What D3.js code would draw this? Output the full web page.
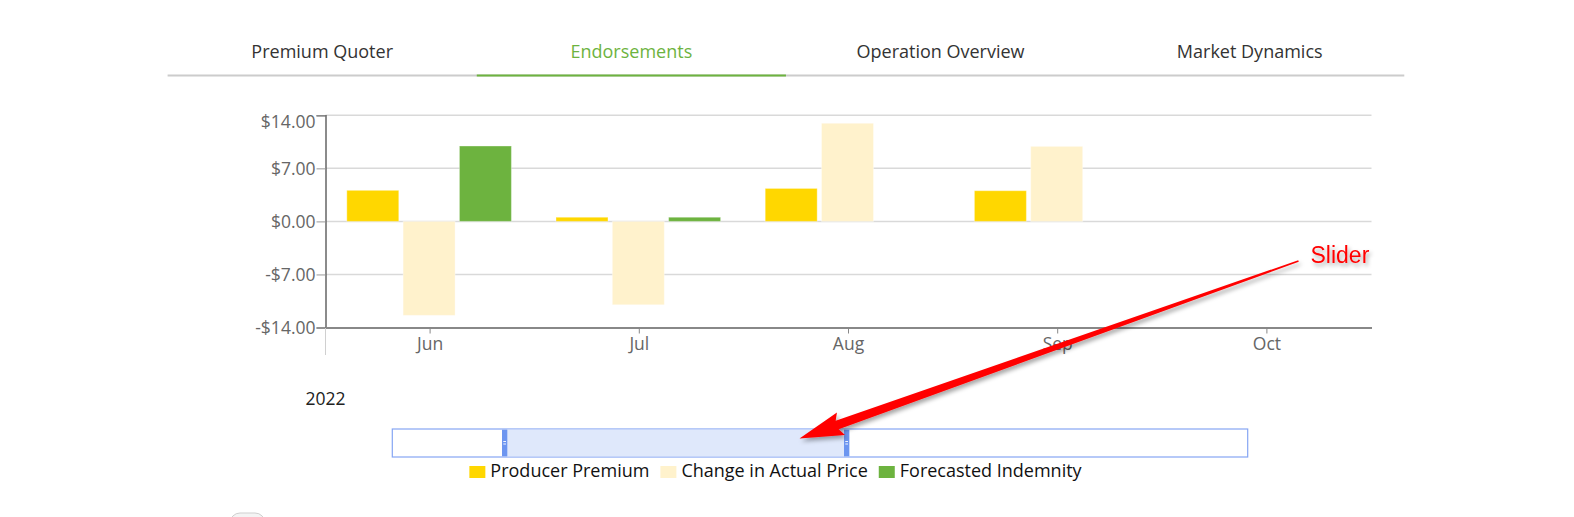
<!DOCTYPE html>
<html>
<head>
<meta charset="utf-8">
<script src="https://cdn.jsdelivr.net/npm/d3@7"></script>
<style>
  html, body { margin: 0; padding: 0; background: #fff; }
  svg { display: block; font-family: "Open Sans", sans-serif; }
</style>
</head>
<body>
<svg id="chart" width="1574" height="517"></svg>
<script>
// ---- data ----
const tabs = ["Premium Quoter", "Endorsements", "Operation Overview", "Market Dynamics"];
const activeTab = "Endorsements";
const months = ["Jun", "Jul", "Aug", "Sep", "Oct"];
const seriesNames = ["Producer Premium", "Change in Actual Price", "Forecasted Indemnity"];
const producerPremium = [4.1, 0.55, 4.35, 4.05, null];
const changeInActualPrice = [-12.4, -11.0, 12.95, 9.9, null];
const forecastedIndemnity = [9.95, 0.55, null, null, null];
const yTicks = [-14, -7, 0, 7, 14];
const yearLabel = "2022";
const annotationText = "Slider";
const seriesColors = ["#FFD700", "#FFF2CC", "#6DB33F"];

const seriesValues = [producerPremium, changeInActualPrice, forecastedIndemnity];

const svg = d3.select("#chart");

// ---- defs ----
const defs = svg.append("defs");
const sh = defs.append("filter").attr("id", "shadow").attr("x", "-20%").attr("y", "-20%").attr("width", "140%").attr("height", "160%");
sh.append("feDropShadow").attr("dx", 2).attr("dy", 3).attr("stdDeviation", 2).attr("flood-color", "#000").attr("flood-opacity", 0.35);

// ---- tabs ----
const tabScale = d3.scaleBand().domain(tabs).range([167.6, 1404.3]);
const tabG = svg.append("g");
tabG.append("line").attr("x1", 167.6).attr("x2", 1404.3).attr("y1", 75.5).attr("y2", 75.5)
  .attr("stroke", "#cccccc").attr("stroke-width", 2);
tabG.append("line").attr("x1", tabScale(activeTab)).attr("x2", tabScale(activeTab) + tabScale.bandwidth())
  .attr("y1", 75.5).attr("y2", 75.5).attr("stroke", "#6DB33F").attr("stroke-width", 2);
tabG.selectAll("text.tab").data(tabs).join("text").attr("class", "tab")
  .attr("x", d => tabScale(d) + tabScale.bandwidth() / 2)
  .attr("y", 57.5)
  .attr("text-anchor", "middle")
  .attr("font-size", "18px")
  .attr("fill", d => d === activeTab ? "#6DB33F" : "#333333")
  .text(d => d);

// ---- chart scales ----
const x = d3.scaleBand().domain(months).range([325.5, 1371.5]).padding(0);
const y = d3.scaleLinear().domain([-14, 14]).range([327.5, 115.3]);
const xs = d3.scaleBand().domain(seriesNames).range([-82.3, 82.3]).paddingInner(0.077).paddingOuter(0);

// gridlines
svg.append("g").selectAll("line").data(yTicks.filter(t => t !== -14)).join("line")
  .attr("x1", 325.5).attr("x2", 1371.5)
  .attr("y1", d => y(d)).attr("y2", d => y(d))
  .attr("stroke", "#d9d9d9").attr("stroke-width", 1.5);

// bars
const barG = svg.append("g");
seriesNames.forEach((s, si) => {
  const pts = months.map((m, i) => ({ m, v: seriesValues[si][i] })).filter(p => p.v !== null);
  barG.append("g").selectAll("rect").data(pts).join("rect")
    .attr("x", d => x(d.m) + x.bandwidth() / 2 + xs(s) - 1)
    .attr("width", xs.bandwidth())
    .attr("y", d => y(Math.max(0, d.v)))
    .attr("height", d => Math.abs(y(d.v) - y(0)))
    .attr("fill", seriesColors[si])
    .attr("stroke", "#ffffff").attr("stroke-opacity", 0.35).attr("stroke-width", 1);
});

// y axis
const yAxis = svg.append("g").attr("transform", "translate(325.5,0)")
  .call(d3.axisLeft(y).tickValues(yTicks).tickSize(9).tickPadding(1)
    .tickFormat(d => (d < 0 ? "-$" : "$") + Math.abs(d).toFixed(2)));
yAxis.select(".domain").attr("stroke", "#666").attr("stroke-width", 1.5);
yAxis.selectAll(".tick line").attr("stroke", "#999");
yAxis.selectAll(".tick text").attr("font-size", "17.5px").attr("fill", "#666")
  .attr("font-family", "Open Sans, sans-serif")
  .attr("dy", d => d === 14 ? "0.72em" : "0.35em");
// lower extension of left edge
svg.append("line").attr("x1", 325.5).attr("x2", 325.5).attr("y1", 328).attr("y2", 355)
  .attr("stroke", "#d0d0d0").attr("stroke-width", 1);

// x axis
const xAxis = svg.append("g").attr("transform", "translate(0,327.5)")
  .call(d3.axisBottom(x).tickSize(6).tickPadding(4).tickSizeOuter(0));
xAxis.select(".domain").attr("stroke", "#888").attr("stroke-width", 2);
xAxis.selectAll(".tick line").attr("stroke", "#888");
xAxis.selectAll(".tick text").attr("font-size", "17.5px").attr("fill", "#666")
  .attr("font-family", "Open Sans, sans-serif");

// year label
svg.append("text").attr("x", 305.5).attr("y", 404.5).attr("font-size", "17.5px").attr("fill", "#222").text(yearLabel);

// ---- slider ----
const sl = { x0: 392.3, x1: 1247.7, y0: 429, y1: 457, s0: 502, s1: 849.3 };
const slG = svg.append("g");
slG.append("rect").attr("x", sl.x0).attr("y", sl.y0).attr("width", sl.x1 - sl.x0).attr("height", sl.y1 - sl.y0)
  .attr("fill", "#fff").attr("stroke", "#86a6f3").attr("stroke-width", 1.2);
slG.append("rect").attr("x", sl.s0).attr("y", sl.y0 + 0.6).attr("width", sl.s1 - sl.s0).attr("height", sl.y1 - sl.y0 - 1.2)
  .attr("fill", "#dfe8fb");
[sl.s0, sl.s1 - 5.3].forEach(hx => {
  slG.append("rect").attr("x", hx).attr("y", sl.y0 + 0.6).attr("width", 5.3).attr("height", sl.y1 - sl.y0 - 1.2).attr("fill", "#6c95f0");
  [441.5, 444].forEach(gy => slG.append("line").attr("x1", hx + 1.3).attr("x2", hx + 4).attr("y1", gy).attr("y2", gy)
    .attr("stroke", "#fff").attr("stroke-width", 0.9));
});

// ---- legend ----
const legG = svg.append("g");
let lx = 0;
const items = [];
seriesNames.forEach((s, i) => {
  const g = legG.append("g");
  g.append("rect").attr("x", 0).attr("y", 466).attr("width", 16).attr("height", 12).attr("fill", seriesColors[i]);
  const t = g.append("text").attr("x", 21).attr("y", 477).attr("font-size", "18px").attr("fill", "#111").text(s);
  const w = 21 + t.node().getComputedTextLength();
  items.push({ g, w });
});
const gap = 11;
const total = d3.sum(items, d => d.w) + gap * (items.length - 1);
lx = 775.5 - total / 2;
items.forEach(it => { it.g.attr("transform", `translate(${lx},0)`); lx += it.w + gap; });

// small cut-off toggle at bottom
svg.append("rect").attr("x", 230).attr("y", 513).attr("width", 35).attr("height", 20).attr("rx", 10)
  .attr("fill", "#f4f4f4").attr("stroke", "#cfcfcf").attr("stroke-width", 1);

// ---- red annotation arrow ----
const start = [1298.5, 261], tip = [799.5, 438.5];
const dx = tip[0] - start[0], dy = tip[1] - start[1];
const L = Math.hypot(dx, dy);
const ux = dx / L, uy = dy / L, nx = -uy, ny = ux;
const headLen = 40, headHalf = 12;
const base = [tip[0] - ux * headLen, tip[1] - uy * headLen];
const w0 = 0.8, w1 = 4.5;
const pts = [
  [start[0] + nx * w0, start[1] + ny * w0],
  [base[0] + nx * w1, base[1] + ny * w1],
  [base[0] + nx * headHalf - ux * 4, base[1] + ny * headHalf - uy * 4],
  tip,
  [base[0] - nx * headHalf - ux * 4, base[1] - ny * headHalf - uy * 4],
  [base[0] - nx * w1, base[1] - ny * w1],
  [start[0] - nx * w0, start[1] - ny * w0]
];
svg.append("polygon").attr("points", pts.map(p => p.join(",")).join(" "))
  .attr("fill", "#ff0000").attr("filter", "url(#shadow)");
svg.append("text").attr("x", 1310.5).attr("y", 262.5)
  .attr("font-family", "Liberation Sans, Arial, sans-serif").attr("font-size", "23px")
  .attr("fill", "#ff0000").attr("filter", "url(#shadow)").text(annotationText);
</script>
</body>
</html>
